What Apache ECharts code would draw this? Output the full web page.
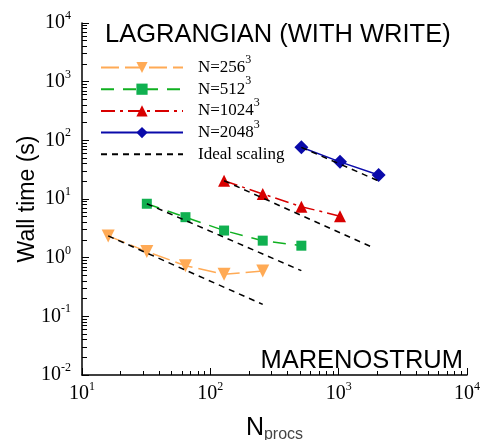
<!DOCTYPE html>
<html>
<head>
<meta charset="utf-8">
<script src="https://cdn.jsdelivr.net/npm/echarts@6/dist/echarts.min.js"></script>
<style>html,body{margin:0;padding:0;background:#fff}#c{width:486px;height:440px}</style>
</head>
<body>
<div id="c"></div>
<script>
// ---- data ----
const procs256 = [16, 32, 64, 128, 256];
const time256 = [2.35, 1.27, 0.73, 0.52, 0.59];
const procs512 = [32, 64, 128, 256, 512];
const time512 = [8.3, 4.9, 2.9, 1.95, 1.6];
const procs1024 = [128, 256, 512, 1024];
const time1024 = [20.5, 12.2, 7.4, 5.1];
const procs2048 = [512, 1024, 2048];
const time2048 = [76, 43, 25.6];
// ideal-scaling reference lines (end points)
const idealProcs256 = [16, 256];
const idealTime256 = [2.35, 0.16];
const idealProcs512 = [32, 512];
const idealTime512 = [8.3, 0.6];
const idealProcs1024 = [128, 1900];
const idealTime1024 = [20.5, 1.45];
const idealProcs2048 = [512, 2048];
const idealTime2048 = [76, 20.3];
// tick labels
const xTickValues = [10, 100, 1000, 10000];
const xTickLabels = ['10{sup|1}', '10{sup|2}', '10{sup|3}', '10{sup|4}'];
const yTickValues = [0.01, 0.1, 1, 10, 100, 1000, 10000];
const yTickLabels = ['10{sup|-2}', '10{sup|-1}', '10{sup|0}', '10{sup|1}', '10{sup|2}', '10{sup|3}', '10{sup|4}'];
const minorMultipliers = [2, 3, 4, 5, 6, 7, 8, 9];
const seriesNames = ['N=256^3', 'N=512^3', 'N=1024^3', 'N=2048^3', 'Ideal scaling'];

const zip = (xs, ys) => xs.map((x, i) => [x, ys[i]]);
const labelFor = (vals, labels) => v => {
  let best = 0, bd = Infinity;
  vals.forEach((t, i) => { const d = Math.abs(Math.log10(t) - Math.log10(v)); if (d < bd) { bd = d; best = i; } });
  return bd < 1e-6 ? labels[best] : '';
};
// minor tick positions in exponent space (for the overlay tick-only axes)
const minorExps = (decades) => {
  const out = [];
  decades.slice(0, -1).forEach(d => minorMultipliers.forEach(m => out.push(Math.log10(d * m))));
  return out;
};
const serif = 'Liberation Serif';
const sans = 'Liberation Sans';
const supAxis = { sup: { fontFamily: serif, fontSize: 12, verticalAlign: 'top', lineHeight: 12, color: '#000' } };
const supLegend = { sup: { fontFamily: serif, fontSize: 12, verticalAlign: 'top', lineHeight: 12, color: '#000' } };

const chart = echarts.init(document.getElementById('c'), null, { renderer: 'canvas' });

const axisCommon = {
  type: 'log',
  logBase: 10,
  axisLine: { show: true, onZero: false, lineStyle: { color: '#000', width: 1.5 } },
  axisTick: { show: true, inside: true, length: 7, lineStyle: { color: '#000', width: 1 } },
  minorTick: { show: false },
  splitLine: { show: false },
  minorSplitLine: { show: false },
  nameMoveOverlap: false
};
const tickOnly = (pos, min, max, values, len) => ({
  type: 'value', position: pos, min: min, max: max,
  axisLine: { show: false, onZero: false },
  axisLabel: { show: false },
  splitLine: { show: false },
  axisTick: { show: true, inside: true, length: len, customValues: values, lineStyle: { color: '#000', width: 1 } }
});

const ideal = (xs, ys) => ({
  name: 'Ideal scaling', type: 'line', data: zip(xs, ys), symbol: 'none',
  lineStyle: { color: '#000', width: 1.5, type: [6, 5] }, z: 5, silent: true
});

chart.setOption({
  animation: false,
  grid: { left: 82, right: 19, top: 23, bottom: 65, outerBoundsMode: 'none', containLabel: false },
  title: [
    { text: 'LAGRANGIAN (WITH WRITE)', left: 100, top: 17,
      textStyle: { fontFamily: sans, fontSize: 25.5, fontWeight: 'normal', color: '#000' } },
    { text: 'MARENOSTRUM', right: 18, top: 343,
      textStyle: { fontFamily: sans, fontSize: 25.5, fontWeight: 'normal', color: '#000' } }
  ],
  legend: {
    data: seriesNames.map(n => n === 'Ideal scaling' ? { name: n, itemStyle: { opacity: 0 } } : n),
    orient: 'vertical', left: 100, top: 53.5, padding: 0,
    itemWidth: 82, itemHeight: 14, itemGap: -6.3,
    textStyle: { fontFamily: serif, fontSize: 17, color: '#000', lineHeight: 28, padding: [0, 0, 0, 10], rich: supLegend },
    formatter: name => name.replace(/\^(\d+)$/, '{sup|$1}')
  },
  xAxis: [
    Object.assign({}, axisCommon, {
      min: 10, max: 10000, position: 'bottom',
      axisLabel: { fontFamily: serif, fontSize: 20, color: '#000', margin: 6, lineHeight: 26,
        formatter: labelFor(xTickValues, xTickLabels), rich: supAxis },
      name: 'N{sub|procs}', nameLocation: 'middle', nameGap: 38,
      nameTextStyle: { fontFamily: sans, fontSize: 25, color: '#000', lineHeight: 30,
        rich: { sub: { fontFamily: sans, fontSize: 16, color: '#444', verticalAlign: 'bottom', lineHeight: 14 } } }
    }),
    tickOnly('bottom', 1, 4, minorExps(xTickValues), 4)
  ],
  yAxis: [
    Object.assign({}, axisCommon, {
      min: 0.01, max: 10000, position: 'left',
      axisLabel: { fontFamily: serif, fontSize: 20, color: '#000', margin: 11, lineHeight: 26,
        formatter: labelFor(yTickValues, yTickLabels), rich: supAxis },
      name: 'Wall time (s)', nameLocation: 'middle', nameGap: 43,
      nameTextStyle: { fontFamily: sans, fontSize: 23, color: '#000' }
    }),
    tickOnly('left', -2, 4, minorExps(yTickValues), 5)
  ],
  series: [
    { name: seriesNames[0], type: 'line', data: zip(procs256, time256),
      symbol: 'triangle', symbolRotate: 180, symbolSize: 13,
      itemStyle: { color: '#FFAA55' }, lineStyle: { color: '#FFAA55', width: 1.5, type: [18, 6] } },
    { name: seriesNames[1], type: 'line', data: zip(procs512, time512),
      symbol: 'rect', symbolSize: 10,
      itemStyle: { color: '#10B050' }, lineStyle: { color: '#10B020', width: 1.5, type: [13, 9] } },
    { name: seriesNames[2], type: 'line', data: zip(procs1024, time1024),
      symbol: 'triangle', symbolSize: 12,
      itemStyle: { color: '#D80000' }, lineStyle: { color: '#D80000', width: 1.5, type: [14, 5, 3, 5] } },
    { name: seriesNames[3], type: 'line', data: zip(procs2048, time2048),
      symbol: 'diamond', symbolSize: 14,
      itemStyle: { color: '#0A0AAA' }, lineStyle: { color: '#0A0AAA', width: 1.5, type: 'solid' } },
    ideal(idealProcs256, idealTime256),
    ideal(idealProcs512, idealTime512),
    ideal(idealProcs1024, idealTime1024),
    ideal(idealProcs2048, idealTime2048)
  ]
});
</script>
</body>
</html>
